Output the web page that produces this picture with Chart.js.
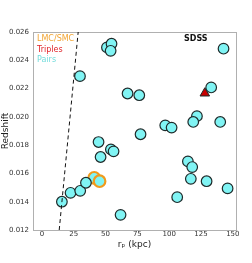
<!DOCTYPE html>
<html>
<head>
<meta charset="utf-8">
<script src="https://cdn.jsdelivr.net/npm/chart.js@4"></script>
<style>
  html, body { margin: 0; padding: 0; background: #fff; }
  #wrap { width: 252px; height: 263px; }
</style>
</head>
<body>
<div id="wrap"><canvas id="chart" width="252" height="263"></canvas></div>
<script>
// 数据 - 投影距离 r_p (kpc) 与红移
const pairsX = [15.7, 22.5, 30.1, 34.6, 44.5, 46.1, 54.2, 56.3, 61.8, 29.9, 51.1, 54.7, 54.0, 67.3, 76.5,
    142.7, 133.0, 121.8, 118.9, 140.1, 96.9, 101.9, 77.5, 114.7, 118.1, 117.0, 129.4, 145.9, 106.3];
const pairsY = [0.0140, 0.01463, 0.01477, 0.01534, 0.01822, 0.01716, 0.0177, 0.01756, 0.01307, 0.02288, 0.02491, 0.02517, 0.02467, 0.02165, 0.02153,
    0.02482, 0.02208, 0.02005, 0.01964, 0.01964, 0.0194, 0.01924, 0.01877, 0.01685, 0.01645, 0.01562, 0.01545, 0.01494, 0.01432];
const mcX = [41.1, 45.3];
const mcY = [0.01569, 0.01545];
const triplesX = [128.0];
const triplesY = [0.02167];
const cutX = [13.6, 28.5];
const cutY = [0.012, 0.026];
const xTicks = [0, 25, 50, 75, 100, 125, 150];
const yTicks = [0.012, 0.014, 0.016, 0.018, 0.020, 0.022, 0.024, 0.026];

const toPoints = (xs, ys) => xs.map((x, i) => ({ x: x, y: ys[i] }));

const cyan = '#80f4f4';
const edge = '#1e2a2a';
const font = 'DejaVu Sans';

// 图框、图例文字与 SDSS 标签
const labelPlugin = {
    id: 'labels',
    beforeDatasetsDraw(chart) {
        const ctx = chart.ctx;
        const a = chart.chartArea;
        ctx.save();
        ctx.strokeStyle = '#b0b0b0';
        ctx.lineWidth = 1;
        ctx.strokeRect(a.left + 0.5, a.top + 0.5, a.right - a.left, a.bottom - a.top);
        ctx.restore();
    },
    afterDraw(chart) {
        const ctx = chart.ctx;
        const a = chart.chartArea;
        ctx.save();
        ctx.textBaseline = 'middle';
        ctx.textAlign = 'left';
        ctx.font = '8px ' + font;
        ctx.fillStyle = '#f2a533';
        ctx.fillText('LMC/SMC', a.left + 4, a.top + 7);
        ctx.fillStyle = '#e0242a';
        ctx.fillText('Triples', a.left + 4, a.top + 17.5);
        ctx.fillStyle = '#72dcdc';
        ctx.fillText('Pairs', a.left + 4, a.top + 28);
        ctx.fillStyle = '#111';
        ctx.font = 'bold 8px ' + font;
        ctx.fillText('SDSS', a.left + 151, a.top + 7);
        ctx.restore();
    }
};

new Chart(document.getElementById('chart'), {
    type: 'scatter',
    data: {
        datasets: [
            {
                type: 'line',
                data: toPoints(cutX, cutY),
                borderColor: '#111',
                borderWidth: 1,
                borderDash: [4, 3],
                pointRadius: 0,
                fill: false
            },
            {
                data: toPoints(pairsX, pairsY),
                backgroundColor: cyan,
                borderColor: edge,
                borderWidth: 1.2,
                pointRadius: 5.3
            },
            {
                // LMC/SMC 橙色外圈
                data: toPoints(mcX, mcY),
                backgroundColor: cyan,
                borderColor: '#f09a1c',
                borderWidth: 2.2,
                pointRadius: 5.8
            },
            {
                data: toPoints(mcX, mcY),
                backgroundColor: cyan,
                borderColor: edge,
                borderWidth: 0.8,
                pointRadius: 4.3
            },
            {
                data: toPoints(triplesX, triplesY),
                backgroundColor: '#c80000',
                borderColor: edge,
                borderWidth: 1,
                pointStyle: 'triangle',
                pointRadius: 5.5
            }
        ]
    },
    options: {
        responsive: false,
        animation: false,
        layout: { padding: { left: 0, top: 32, right: 16, bottom: 0 } },
        plugins: { legend: { display: false }, tooltip: { enabled: false } },
        scales: {
            x: {
                type: 'linear',
                min: -7,
                max: 152.5,
                afterBuildTicks: s => { s.ticks = xTicks.map(v => ({ value: v })); },
                afterFit: s => { s.height = 33; },
                border: { color: '#b0b0b0', width: 1 },
                grid: { display: false, drawOnChartArea: false, drawTicks: true, tickLength: 2, color: '#999' },
                ticks: { color: '#333', font: { family: font, size: 7 }, padding: -2, maxRotation: 0 },
                title: { display: true, text: 'rₚ (kpc)', color: '#222', font: { family: font, size: 9 }, padding: { top: 0, bottom: 13 } }
            },
            y: {
                type: 'linear',
                min: 0.012,
                max: 0.026,
                afterBuildTicks: s => { s.ticks = yTicks.map(v => ({ value: v })); },
                afterFit: s => { s.width = 33; },
                border: { color: '#b0b0b0', width: 1 },
                grid: { display: false, drawOnChartArea: false, drawTicks: true, tickLength: 3, color: '#999' },
                ticks: { color: '#333', font: { family: font, size: 7 }, padding: 1, callback: v => v.toFixed(3) },
                title: { display: true, text: 'Redshift', color: '#222', font: { family: font, size: 9 }, padding: { top: 0, bottom: 0 } }
            }
        }
    },
    plugins: [labelPlugin]
});
</script>
</body>
</html>
